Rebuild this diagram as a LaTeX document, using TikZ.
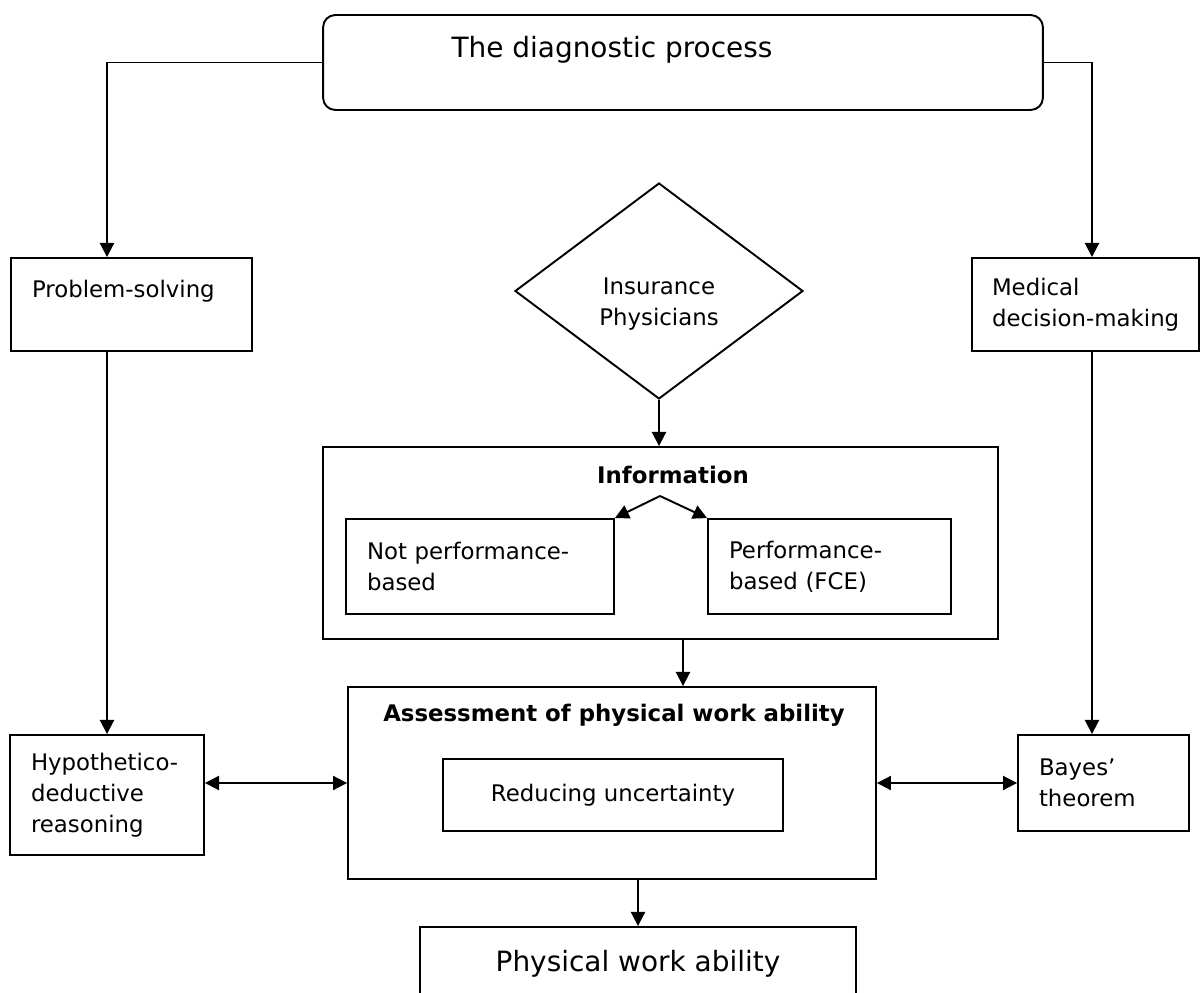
\documentclass[tikz,border=0pt]{standalone}
\usepackage{fontspec}
\setmainfont{DejaVu Sans}
\usetikzlibrary{arrows.meta,positioning,shapes.geometric}
\newcommand\boxfont{\fontsize{13}{17.6}\selectfont}
\newcommand\bigfont{\fontsize{15.9}{19}\selectfont}

\begin{document}
\begin{tikzpicture}[x=0.02cm,y=-0.02cm,
 frame/.style={draw,line width=1.1pt,font=\boxfont},
 sbox/.style={frame,inner xsep=.42cm,inner ysep=0pt,align=left},
 txt/.style={font=\boxfont,align=center,inner sep=0pt},
 head/.style={font=\boxfont\bfseries,inner sep=0pt},
 arr/.style={-{Triangle[length=8pt,width=8pt]},line width=1.1pt},
 both/.style={{Triangle[length=8pt,width=8pt]}-{Triangle[length=8pt,width=8pt]},line width=1.1pt}]
 \useasboundingbox (0,0) rectangle (1201,993);
 \node[frame,rounded corners=7pt,minimum width=14.4cm,minimum height=1.9cm] (diag) at (683,62.5) {};
 \node[txt,font=\bigfont] (diagt) at (612,50) {The diagnostic process};
 \node[sbox,text width=3.98cm,minimum height=1.86cm] (prob) at (131.5,304.5) {Problem-solving\\~};
 \node[sbox,inner xsep=.4cm,text width=3.74cm,minimum height=1.86cm] (med) at (1085.5,304.5) {Medical\\\mbox{decision-making}};
 \node[draw,diamond,line width=1.1pt,minimum width=5.76cm,minimum height=4.32cm,inner sep=0pt] (ins) at (659,291) {};
 \node[txt] (inst) at (659,304) {Insurance\\Physicians};
 \node[frame,minimum width=13.5cm,minimum height=3.84cm] (info) at (660.5,543) {};
 \node[head] (infot) at (673,475) {Information};
 \coordinate (split) at (660,496);
 \node[sbox,text width=4.52cm,minimum height=1.9cm] (notp) at (480,566.5) {Not performance-\\based};
 \node[sbox,text width=4.02cm,minimum height=1.9cm] (perf) at (829.5,566.5) {Performance-\\based (FCE)};
 \node[frame,minimum width=10.56cm,minimum height=3.84cm] (assess) at (612,783) {};
 \node[head] (assesst) at (614,715) {Assessment of physical work ability};
 \node[frame,minimum width=6.8cm,minimum height=1.44cm] (reduce) at (613,795) {Reducing uncertainty};
 \node[sbox,text width=3.04cm,minimum height=2.4cm] (hyp) at (107,795) {Hypothetico-\\deductive\\reasoning};
 \node[sbox,text width=2.58cm,minimum height=1.92cm] (bayes) at (1103.5,783) {Bayes’\\theorem};
 \node[frame,font=\bigfont,minimum width=8.72cm,minimum height=1.48cm] (phys) at (638,964) {Physical work ability};
 \draw[arr] (diag.west) -| (hyp.north |- prob.north);
 \draw[arr] (prob.south -| hyp.north) -- (hyp.north);
 \draw[arr] (diag.east) -| ([xshift=.13cm]med.north);
 \draw[arr] ([xshift=.13cm]med.south) -- ([xshift=-.23cm]bayes.north);
 \draw[arr] (ins.south) -- (ins.south |- info.north);
 \draw[arr] (split) -- (notp.north east); \draw[arr] (split) -- (perf.north west);
 \draw[arr] ([xshift=.45cm]info.south) -- ([xshift=.45cm]info.south |- assess.north);
 \draw[arr] (phys.north |- assess.south) -- (phys.north);
 \draw[both] (hyp.east |- assess.west) -- (assess.west);
 \draw[both] (assess.east) -- (bayes.west);
\end{tikzpicture}
\end{document}
